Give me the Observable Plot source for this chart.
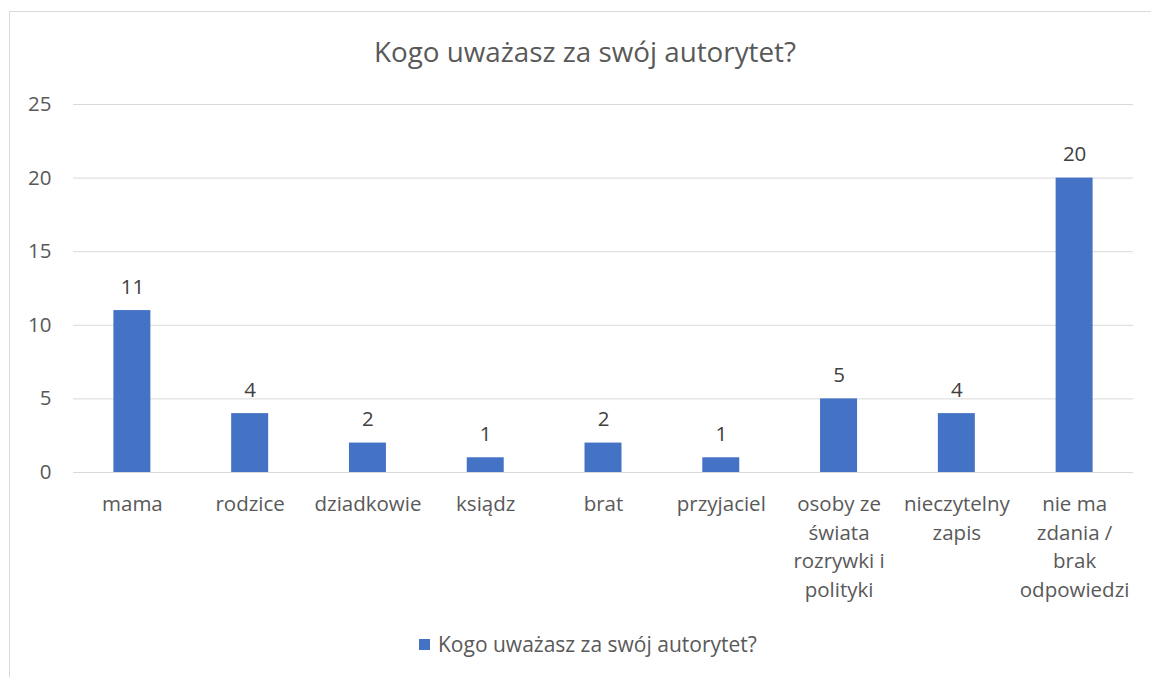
<!DOCTYPE html>
<html><head><meta charset="utf-8">
<script src="https://cdn.jsdelivr.net/npm/d3@7"></script>
<script src="https://cdn.jsdelivr.net/npm/@observablehq/plot@0.6"></script>
<style>
body{margin:0;background:#fff;font-family:"Open Sans",sans-serif;color:#595959;}
#frame{position:absolute;left:9px;top:11px;width:1160px;height:700px;border:1px solid #d9d9d9;box-sizing:border-box;}
#title{position:absolute;left:0;width:1170px;top:32px;text-align:center;font-size:27.8px;color:#595959;}
#chart{position:absolute;left:0;top:0;}
#legend{position:absolute;top:630px;left:419px;font-size:21px;display:flex;align-items:center;}
#legend span.sw{display:inline-block;width:11px;height:11px;background:#4472C4;margin-right:8px;}
</style></head><body>
<div id="frame"></div>
<div id="title">Kogo uważasz za swój autorytet?</div>
<div id="chart"></div>
<div id="legend"><span class="sw"></span><span>Kogo uważasz za swój autorytet?</span></div>
<script>
const categories = ["mama","rodzice","dziadkowie","ksiądz","brat","przyjaciel","osoby ze świata rozrywki i polityki","nieczytelny zapis","nie ma zdania / brak odpowiedzi"];
const tickLabels = ["mama","rodzice","dziadkowie","ksiądz","brat","przyjaciel","osoby ze\nświata\nrozrywki i\npolityki","nieczytelny\nzapis","nie ma\nzdania /\nbrak\nodpowiedzi"];
const values = [11,4,2,1,2,1,5,4,20];
const yTicks = [0,5,10,15,20,25];

const data = categories.map((c,i)=>({cat:c, value:values[i], label:tickLabels[i]}));
const labelOf = new Map(data.map(d=>[d.cat,d.label]));

const chart = Plot.plot({
  width:1151, height:620,
  marginLeft:73, marginRight:18, marginTop:104, marginBottom:148,
  style:{fontFamily:'"Open Sans",sans-serif', fontSize:"20.5px", color:"#595959", background:"transparent"},
  x:{domain:categories, paddingInner:0.686, paddingOuter:0.343, round:false, label:null},
  y:{domain:[0,25], label:null},
  marks:[
    Plot.gridY(yTicks,{stroke:"#d9d9d9", strokeOpacity:1, strokeWidth:1}),
    Plot.barY(data,{x:"cat", y:"value", fill:"#4472C4"}),
    Plot.ruleY([0],{stroke:"#d9d9d9", strokeWidth:1}),
    Plot.text(data,{x:"cat", y:"value", text:d=>String(d.value), dy:-17, lineAnchor:"bottom", fill:"#404040", fontSize:20.5}),
    Plot.axisY({ticks:yTicks, tickSize:0, tickPadding:22, label:null, fill:"#595959", fontSize:20.5}),
    Plot.axisX({tickSize:0, tickPadding:18, label:null, tickFormat:d=>labelOf.get(d), lineHeight:1.4, fill:"#595959", fontSize:20.5, lineAnchor:"top", textOverflow:null})
  ]
});
document.getElementById("chart").appendChild(chart);
</script>
</body></html>
